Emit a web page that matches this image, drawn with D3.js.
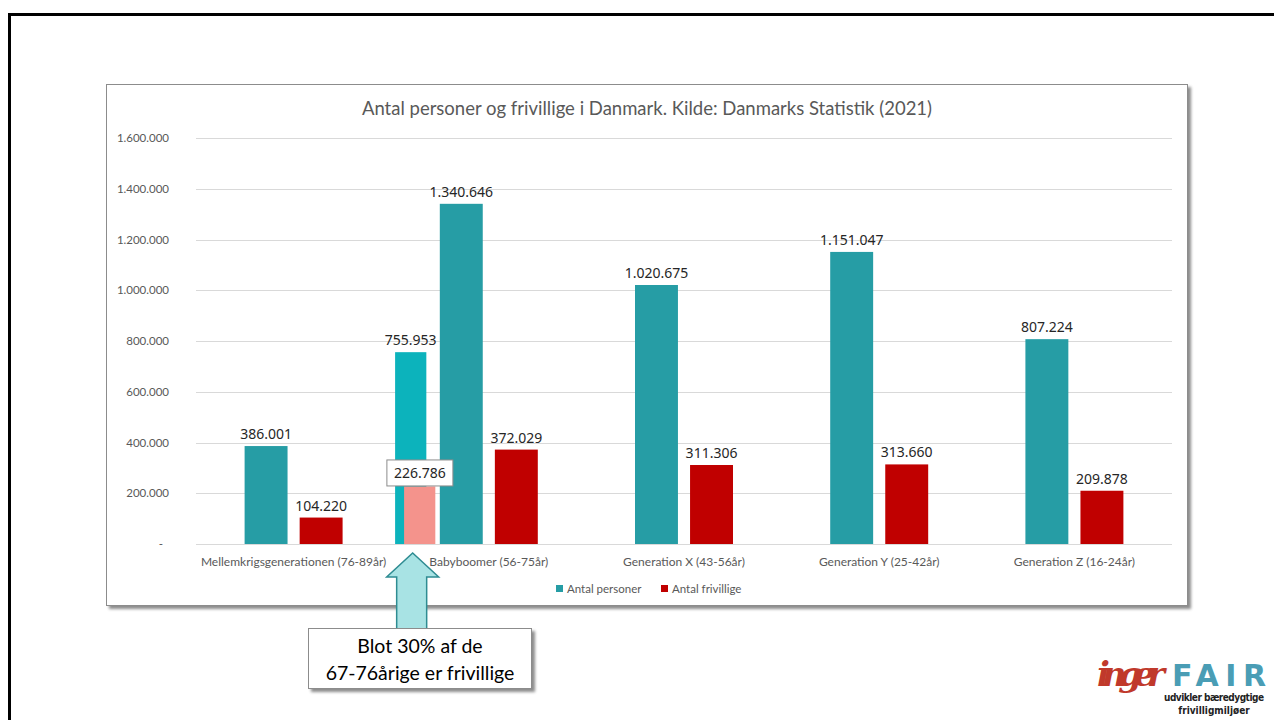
<!DOCTYPE html>
<html>
<head>
<meta charset="utf-8">
<script src="https://cdn.jsdelivr.net/npm/d3@7"></script>
<style>
  body { margin: 0; background: #fff; }
  svg { display: block; }
</style>
</head>
<body>
<div class="slide"></div>
<script>
const categories = [
  "Mellemkrigsgenerationen (76-89år)",
  "Babyboomer (56-75år)",
  "Generation X (43-56år)",
  "Generation Y (25-42år)",
  "Generation Z (16-24år)"
];
const seriesNames = ["Antal personer", "Antal frivillige"];
const antalPersoner = [386001, 1340646, 1020675, 1151047, 807224];
const antalFrivillige = [104220, 372029, 311306, 313660, 209878];
const yTicks = [0, 200000, 400000, 600000, 800000, 1000000, 1200000, 1400000, 1600000];

// the 67-76 year olds, drawn on top of the Babyboomer group
const subCategory = "Babyboomer (56-75år)";
const subPersoner = 755953;
const subFrivillige = 226786;

const titleText = "Antal personer og frivillige i Danmark. Kilde: Danmarks Statistik (2021)";
const calloutLines = ["Blot 30% af de", "67-76årige er frivillige"];

const colors = {"Antal personer": "#269DA5", "Antal frivillige": "#C00000"};
const subColors = {personer: "#0CB3BC", frivillige: "#F4938C"};

const dk = d3.formatLocale({decimal: ",", thousands: ".", grouping: [3], currency: ["", " kr."]});
const fmt = dk.format(",d");

const W = 1274, H = 720;
const svg = d3.select(".slide").append("svg")
  .attr("width", W)
  .attr("height", H);

const defs = svg.append("defs");
const shadow = defs.append("filter").attr("id", "shadow")
  .attr("x", "-5%").attr("y", "-5%").attr("width", "110%").attr("height", "115%");
shadow.append("feDropShadow")
  .attr("dx", 3).attr("dy", 3).attr("stdDeviation", 1.5)
  .attr("flood-color", "#000").attr("flood-opacity", 0.45);

// slide frame
svg.append("rect")
  .attr("x", 9.5).attr("y", 14.5)
  .attr("width", W + 20).attr("height", H + 20)
  .attr("fill", "none").attr("stroke", "#000").attr("stroke-width", 3);

// chart box
svg.append("rect")
  .attr("x", 106.5).attr("y", 84.5)
  .attr("width", 1081).attr("height", 521)
  .attr("fill", "#fff").attr("stroke", "#8c8c8c")
  .attr("filter", "url(#shadow)");

const plot = {left: 196, right: 1172, top: 138, bottom: 544};

svg.append("text")
  .attr("x", 647).attr("y", 115)
  .attr("text-anchor", "middle")
  .style("font", "18.5px Lato")
  .attr("fill", "#595959")
  .text(titleText);

const x = d3.scaleBand()
  .domain(categories)
  .range([plot.left, plot.right]);
const bw = x.bandwidth();

const x1 = d3.scaleBand()
  .domain(seriesNames)
  .range([bw * 0.249, bw * 0.751])
  .paddingInner(0.22);

const y = d3.scaleLinear()
  .domain([0, 1600000])
  .range([plot.bottom, plot.top]);

// gridlines
svg.append("g")
  .selectAll("line")
  .data(yTicks)
  .join("line")
    .attr("x1", plot.left).attr("x2", plot.right)
    .attr("y1", d => Math.round(y(d)) + 0.5)
    .attr("y2", d => Math.round(y(d)) + 0.5)
    .attr("stroke", "#d9d9d9");

// y axis labels
const yAxis = svg.append("g")
  .attr("transform", `translate(${plot.left - 27},0)`)
  .call(d3.axisLeft(y).tickValues(yTicks).tickSize(0)
    .tickFormat(d => d === 0 ? "-" : fmt(d)));
yAxis.select(".domain").remove();
yAxis.selectAll("text")
  .attr("x", 0)
  .style("font", "11.5px Lato")
  .attr("fill", "#595959");
yAxis.selectAll("text").filter(d => d === 0).attr("x", -6);

// x axis labels
const xAxis = svg.append("g")
  .attr("transform", `translate(0,${plot.bottom})`)
  .call(d3.axisBottom(x).tickSize(0).tickPadding(13));
xAxis.select(".domain").remove();
xAxis.selectAll("text")
  .style("font", "12px Lato")
  .attr("fill", "#595959");

const rows = categories.map((c, i) => ({
  key: c,
  values: [
    {series: "Antal personer", value: antalPersoner[i]},
    {series: "Antal frivillige", value: antalFrivillige[i]}
  ]
}));

const groups = svg.append("g")
  .selectAll("g")
  .data(rows)
  .join("g")
    .attr("transform", d => `translate(${x(d.key)},0)`);

groups.selectAll("rect")
  .data(d => d.values)
  .join("rect")
    .attr("x", d => x1(d.series))
    .attr("y", d => y(d.value))
    .attr("width", x1.bandwidth())
    .attr("height", d => y(0) - y(d.value))
    .attr("fill", d => colors[d.series]);

groups.selectAll("text")
  .data(d => d.values)
  .join("text")
    .attr("x", d => x1(d.series) + x1.bandwidth() / 2)
    .attr("y", d => y(d.value) - 7)
    .attr("text-anchor", "middle")
    .style("font", "14px 'Noto Sans'")
    .attr("fill", "#262626")
    .text(d => fmt(d.value));

// overlay bars for the 67-76 year olds
const sx = x(subCategory);
const subW = bw * 0.16;
svg.append("rect")
  .attr("x", sx + bw * 0.02)
  .attr("y", y(subPersoner))
  .attr("width", subW)
  .attr("height", y(0) - y(subPersoner))
  .attr("fill", subColors.personer);
svg.append("text")
  .attr("x", sx + bw * 0.02 + subW / 2)
  .attr("y", y(subPersoner) - 7)
  .attr("text-anchor", "middle")
  .style("font", "14px 'Noto Sans'")
  .attr("fill", "#262626")
  .text(fmt(subPersoner));
svg.append("rect")
  .attr("x", sx + bw * 0.066)
  .attr("y", y(subFrivillige))
  .attr("width", subW)
  .attr("height", y(0) - y(subFrivillige))
  .attr("fill", subColors.frivillige);
const lblCx = sx + bw * 0.147;
svg.append("rect")
  .attr("x", lblCx - 33).attr("y", y(subFrivillige) - 26.5)
  .attr("width", 66).attr("height", 26)
  .attr("fill", "#fff").attr("stroke", "#8c8c8c");
svg.append("text")
  .attr("x", lblCx)
  .attr("y", y(subFrivillige) - 8.5)
  .attr("text-anchor", "middle")
  .style("font", "14px 'Noto Sans'")
  .attr("fill", "#262626")
  .text(fmt(subFrivillige));

// legend
const legend = svg.append("g")
  .selectAll("g")
  .data(seriesNames)
  .join("g")
    .attr("transform", (d, i) => `translate(${556 + i * 105},585)`);
legend.append("rect")
  .attr("width", 7).attr("height", 7)
  .attr("fill", d => colors[d]);
legend.append("text")
  .attr("x", 11).attr("y", 7.5)
  .style("font", "11.5px Lato")
  .attr("fill", "#595959")
  .text(d => d);

// callout arrow
const tipX = sx + bw * 0.11;
const arrow = [
  [tipX, 553], [tipX + 26, 577], [tipX + 14, 577], [tipX + 14, 630],
  [tipX - 16, 630], [tipX - 16, 577], [tipX - 26, 577]
];
svg.append("path")
  .attr("d", d3.line()(arrow) + "Z")
  .attr("fill", "#A8E3E4")
  .attr("stroke", "#2E8C92")
  .attr("stroke-width", 1.5);

svg.append("rect")
  .attr("x", 308.5).attr("y", 628.5)
  .attr("width", 223).attr("height", 60)
  .attr("fill", "#fff").attr("stroke", "#8c8c8c")
  .attr("filter", "url(#shadow)");
svg.append("g")
  .selectAll("text")
  .data(calloutLines)
  .join("text")
    .attr("x", 420)
    .attr("y", (d, i) => 653 + i * 27)
    .attr("text-anchor", "middle")
    .style("font", "19.5px Lato")
    .attr("fill", "#000")
    .text(d => d);

// logo
const logo = svg.append("g");
logo.append("text")
  .attr("x", 1097).attr("y", 686)
  .style("font", "bold italic 34px 'DejaVu Serif'")
  .attr("fill", "#C0392B")
  .attr("textLength", 68)
  .text("inger");
logo.append("text")
  .attr("x", 1172).attr("y", 686)
  .style("font", "bold 30px 'DejaVu Sans'")
  .attr("fill", "#4A9DB5")
  .attr("textLength", 94)
  .text("FAIR");
logo.append("text")
  .attr("x", 1214).attr("y", 701)
  .attr("text-anchor", "middle")
  .style("font", "bold 10px 'DejaVu Sans Condensed'")
  .attr("fill", "#222")
  .attr("textLength", 100)
  .text("udvikler bæredygtige");
logo.append("text")
  .attr("x", 1214).attr("y", 714)
  .attr("text-anchor", "middle")
  .style("font", "bold 10px 'DejaVu Sans Condensed'")
  .attr("fill", "#222")
  .text("frivilligmiljøer");
</script>
</body>
</html>
